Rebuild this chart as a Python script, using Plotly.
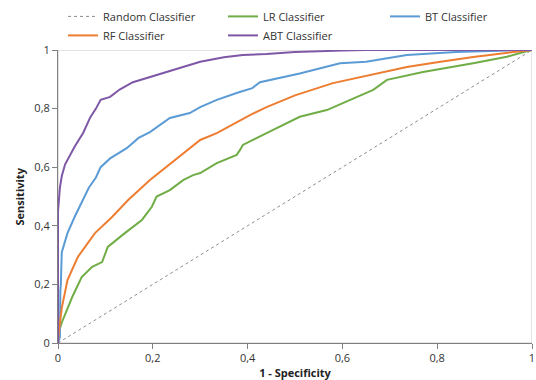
import plotly.graph_objects as go

# ROC curves: false positive rate (1 - specificity) vs true positive rate (sensitivity)
random_fpr = [0, 1]
random_tpr = [0, 1]

lr_fpr = [0, 0.001, 0.008, 0.03, 0.05, 0.072, 0.093, 0.105, 0.141, 0.177, 0.198, 0.208,
          0.236, 0.264, 0.285, 0.3, 0.335, 0.377, 0.384, 0.39, 0.44, 0.51, 0.567, 0.616,
          0.665, 0.694, 0.72, 0.77, 0.876, 0.947, 0.975, 1]
lr_tpr = [0, 0.034, 0.07, 0.157, 0.225, 0.26, 0.276, 0.328, 0.375, 0.42, 0.465, 0.5,
          0.522, 0.556, 0.573, 0.58, 0.614, 0.642, 0.659, 0.676, 0.716, 0.772, 0.795, 0.83,
          0.864, 0.898, 0.908, 0.925, 0.955, 0.977, 0.99, 1]

bt_fpr = [0, 0.004, 0.005, 0.006, 0.008, 0.02, 0.035, 0.05, 0.065, 0.08, 0.085, 0.09,
          0.11, 0.145, 0.17, 0.194, 0.236, 0.278, 0.3, 0.335, 0.38, 0.41, 0.426, 0.51,
          0.595, 0.65, 0.736, 0.84, 0.95, 1]
bt_tpr = [0, 0.02, 0.18, 0.2, 0.31, 0.375, 0.43, 0.48, 0.53, 0.565, 0.58, 0.6,
          0.63, 0.665, 0.7, 0.72, 0.768, 0.785, 0.805, 0.83, 0.855, 0.87, 0.89, 0.92,
          0.955, 0.96, 0.983, 0.993, 0.998, 1]

rf_fpr = [0, 0.002, 0.008, 0.02, 0.042, 0.078, 0.114, 0.148, 0.194, 0.264, 0.3, 0.335,
          0.405, 0.44, 0.5, 0.58, 0.65, 0.736, 0.8, 0.876, 0.96, 1]
rf_tpr = [0, 0.04, 0.12, 0.215, 0.294, 0.375, 0.43, 0.488, 0.556, 0.648, 0.693, 0.716,
          0.778, 0.805, 0.845, 0.887, 0.912, 0.942, 0.958, 0.976, 0.993, 1]

abt_fpr = [0, 0, 0.004, 0.008, 0.015, 0.025, 0.035, 0.053, 0.068, 0.08, 0.09, 0.11,
           0.13, 0.158, 0.2, 0.264, 0.3, 0.35, 0.39, 0.44, 0.5, 0.6, 0.65, 1]
abt_tpr = [0, 0.45, 0.53, 0.57, 0.61, 0.64, 0.67, 0.717, 0.77, 0.8, 0.83, 0.84,
           0.865, 0.89, 0.91, 0.943, 0.96, 0.975, 0.983, 0.986, 0.993, 0.998, 1, 1]

x_ticks = [0, 0.2, 0.4, 0.6, 0.8, 1]
y_ticks = [0, 0.2, 0.4, 0.6, 0.8, 1]

FONT = "Open Sans"

fig = go.Figure()
fig.add_trace(go.Scatter(x=random_fpr, y=random_tpr, mode="lines", name="Random Classifier",
                         legend="legend", line=dict(color="#8c8c8c", width=1, dash="dot")))
fig.add_trace(go.Scatter(x=lr_fpr, y=lr_tpr, mode="lines", name="LR Classifier",
                         legend="legend2", line=dict(color="#70AD47", width=2)))
fig.add_trace(go.Scatter(x=bt_fpr, y=bt_tpr, mode="lines", name="BT Classifier",
                         legend="legend3", line=dict(color="#5B9BD5", width=2)))
fig.add_trace(go.Scatter(x=rf_fpr, y=rf_tpr, mode="lines", name="RF Classifier",
                         legend="legend", line=dict(color="#ED7D31", width=2)))
fig.add_trace(go.Scatter(x=abt_fpr, y=abt_tpr, mode="lines", name="ABT Classifier",
                         legend="legend2", line=dict(color="#7E57A6", width=2)))

# light frame around the plotting area
fig.add_shape(type="rect", xref="x", yref="y", x0=0, y0=0, x1=1, y1=1,
              line=dict(color="#c8c8c8", width=1), layer="below")

axis_common = dict(
    range=[0, 1], showgrid=False, zeroline=False, automargin=False,
    showline=True, linecolor="#808080", linewidth=1,
    ticks="outside", ticklen=5, tickcolor="#808080",
    tickfont=dict(family=FONT, size=11, color="#333333"),
)

fig.update_xaxes(**axis_common, tickvals=x_ticks,
                 title=dict(text="<b>1 - Specificity</b>",
                            font=dict(family=FONT, size=11, color="#222222")))
fig.update_yaxes(**axis_common, tickvals=y_ticks)

# y-axis title, placed left of the tick labels
fig.add_annotation(text="<b>Sensitivity</b>", textangle=-90, showarrow=False,
                   xref="paper", x=(19 - 58) / 474, xanchor="center",
                   yref="paper", y=0.5, yanchor="middle",
                   font=dict(family=FONT, size=11, color="#222222"))


def legend_column(x_px):
    # one legend column, positioned in page pixels
    return dict(orientation="v", xref="container", x=x_px / 536, xanchor="left",
                yref="container", y=0.995, yanchor="top",
                bgcolor="rgba(0,0,0,0)", tracegroupgap=0, itemwidth=30,
                font=dict(family=FONT, size=11, color="#333333"))


fig.update_layout(
    width=536, height=380,
    margin=dict(l=58, r=4, t=50, b=37, autoexpand=False),
    paper_bgcolor="white", plot_bgcolor="white",
    separators=", ",
    font=dict(family=FONT, size=11, color="#333333"),
    showlegend=True,
    legend=legend_column(63),
    legend2=legend_column(223),
    legend3=legend_column(385),
)

fig.write_html("out.html")
